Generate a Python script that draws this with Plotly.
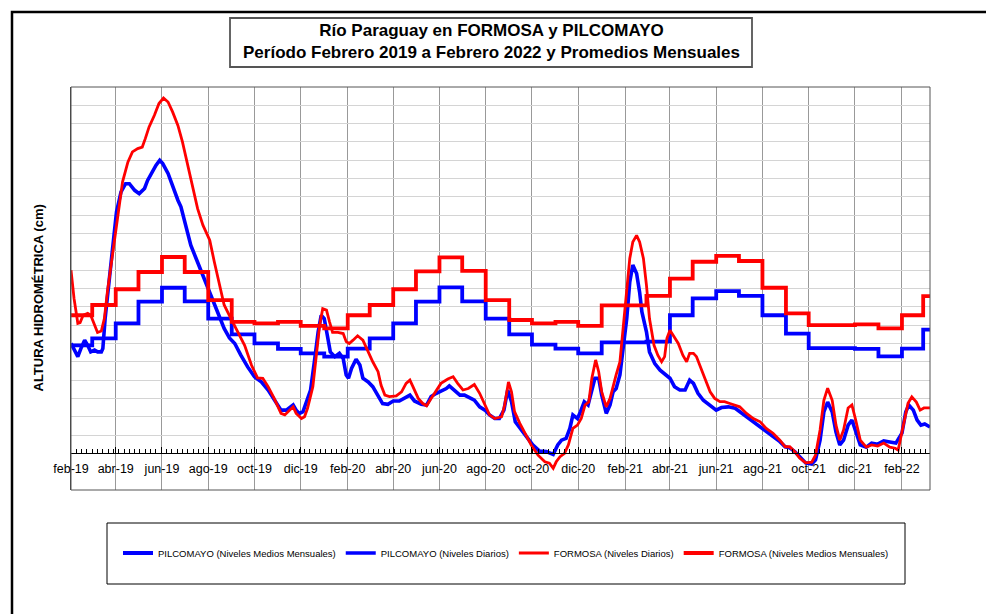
import plotly.graph_objects as go
import pandas as pd

START = pd.Timestamp("2019-02-01")
X_END = "2022-03-10"

# ---------------- data (days since 2019-02-01, levels in cm) ----------------
formosa_days = [0, 4, 9, 12, 16, 22, 26, 31, 35, 40, 44, 48, 55, 62, 68, 75, 81, 88, 94, 98, 103, 110, 116, 122,
                128, 134, 141, 147, 154, 161, 167, 174,
                183, 189, 196, 202, 211, 220, 229, 238, 246, 253, 260, 268, 277, 282, 288, 293, 297, 304, 308, 312,
                319, 323, 328, 332, 337, 341, 345, 352, 359, 363, 367,
                372, 378, 385, 392, 398, 405, 409, 414, 420, 429, 436, 442, 447, 451, 458, 464, 469, 475, 482, 488,
                497, 504, 510, 517, 524, 532, 539, 546, 552, 559,
                568, 572, 577, 581, 585, 592, 598, 607, 616, 625, 631, 636, 640, 645, 651, 656, 662, 668, 673, 678,
                683, 687, 692, 696, 700, 706, 711, 715, 719, 724, 728, 733, 737, 741, 746, 750,
                755, 759, 763, 769, 774, 779, 783, 786, 790, 794, 801, 807, 812, 816, 821, 825, 829, 836, 843, 849,
                856, 862, 869, 876, 882, 891, 900, 909, 917, 926, 935, 942, 948,
                955, 961, 969, 977, 982, 988, 993, 998, 1004, 1009, 1014, 1019, 1025, 1030, 1035, 1041, 1049, 1056,
                1064, 1072, 1080, 1087, 1091, 1097, 1104, 1109, 1115, 1120, 1125, 1133]
formosa_cm = [500, 423, 355, 357, 377, 382, 377, 350, 330, 334, 368, 441, 550, 659, 741, 795, 823, 832, 836, 859,
              891, 923, 955, 970, 959, 932, 895, 850, 786, 723, 668, 623,
              582, 523, 459, 405, 368, 332, 295, 241, 206, 205, 182, 150, 109, 105, 118, 127, 109, 95, 100, 123,
              182, 259, 350, 395, 391, 359, 330, 330, 327, 305, 300,
              309, 321, 309, 277, 250, 223, 186, 159, 155, 157, 168, 191, 200, 182, 150, 136, 130, 150, 173, 191,
              203, 209, 191, 173, 177, 188, 164, 132, 105, 95,
              100, 132, 195, 168, 114, 82, 59, 23, -5, -23, -27, -41, -23, -9, 0, 23, 68, 77, 95, 132,
              141, 205, 255, 223, 168, 127, 150, 186, 214, 250, 332, 441, 532, 577, 595, 577,
              532, 459, 368, 295, 268, 250, 264, 314, 336, 323, 300, 268, 250, 273, 273, 264, 241, 205, 168, 150,
              141, 141, 136, 132, 127, 109, 95, 86, 68, 55, 36, 18, 18,
              4, -13, -26, -24, -5, 64, 145, 178, 145, 77, 36, 64, 124, 132, 91, 36, 17, 23,
              20, 28, 17, 14, 9, 72, 137, 154, 140, 118, 124, 124]

pilco_days = [0, 4, 9, 13, 18, 22, 26, 31, 35, 40, 42, 45, 50, 55, 60, 66, 72, 77, 84, 90, 97, 101, 106, 112,
              117, 121, 128, 134, 141, 145, 150, 154, 158, 165, 172, 178,
              183, 189, 196, 202, 209, 216, 224, 233, 242, 251, 260, 268, 277, 284, 288, 293, 297, 301, 306, 310,
              316, 321, 326, 330, 334, 338, 342, 348, 354, 359, 363, 366, 370,
              376, 381, 385, 392, 398, 405, 411, 418, 425, 433, 440, 447, 453, 462, 469, 475, 482, 488, 495, 499,
              506, 513, 519, 526, 532, 539, 546, 552, 559,
              565, 571, 576, 581, 586, 592, 601, 609, 618, 627, 636, 642, 647, 653, 658, 662, 668, 672, 677, 682,
              686, 691, 696, 700, 706, 711, 715, 719, 724, 728, 733, 737, 741, 746, 750,
              753, 759, 763, 770, 777, 783, 790, 796, 803, 810, 816, 821, 827, 834, 843, 851, 858, 867, 876, 882,
              891, 900, 909, 917, 926, 935, 942, 948,
              955, 961, 969, 977, 982, 988, 993, 998, 1004, 1009, 1014, 1019, 1025, 1030, 1035, 1041, 1049, 1056,
              1064, 1072, 1080, 1088, 1096, 1101, 1105, 1111, 1116, 1121, 1126, 1133]
pilco_cm = [300, 286, 264, 286, 309, 295, 277, 282, 277, 277, 286, 368, 468, 577, 659, 714, 736, 736, 718, 709,
            723, 745, 766, 786, 800, 791, 764, 727, 691, 673, 636, 605, 568, 532, 495, 468,
            441, 405, 373, 341, 315, 300, 268, 236, 209, 195, 173, 145, 118, 118, 125, 132, 118, 109, 114, 136,
            173, 250, 332, 377, 368, 323, 277, 264, 273, 259, 214, 205, 232,
            257, 241, 205, 195, 182, 159, 136, 134, 143, 143, 150, 159, 143, 134, 132, 155, 164, 170, 177, 184,
            173, 159, 159, 152, 145, 127, 118, 105, 95,
            95, 118, 173, 141, 86, 68, 45, 23, 6, 5, -3, 23, 36, 41, 68, 105, 95, 114, 141, 132,
            168, 205, 205, 159, 109, 132, 168, 177, 214, 277, 368, 468, 514, 491, 440,
            386, 332, 277, 245, 227, 218, 205, 182, 173, 173, 200, 191, 164, 145, 132, 118, 125, 127, 123, 114,
            100, 86, 73, 59, 45, 32, 18, 15,
            4, -10, -26, -29, -18, 36, 113, 140, 113, 58, 23, 36, 77, 91, 58, 23, 17, 28,
            25, 34, 31, 28, 55, 113, 132, 118, 91, 77, 80, 72]

month_starts = pd.date_range("2019-02-01", "2022-03-01", freq="MS")
formosa_monthly = [377, 405, 448, 495, 536, 495, 418, 359, 355, 359, 348, 341,
                   377, 405, 448, 497, 535, 498, 418, 364, 355, 359, 348, 404,
                   404, 430, 477, 523, 539, 525, 452, 382, 350, 350, 352, 341,
                   377, 429]
pilco_monthly = [295, 314, 355, 414, 452, 415, 368, 325, 300, 285, 273, 264,
                 286, 314, 355, 414, 453, 415, 368, 325, 297, 286, 273, 303,
                 303, 305, 377, 423, 443, 430, 377, 327, 287, 287, 285, 265,
                 286, 338]

tick_labels = ["feb-19", "abr-19", "jun-19", "ago-19", "oct-19", "dic-19",
               "feb-20", "abr-20", "jun-20", "ago-20", "oct-20", "dic-20",
               "feb-21", "abr-21", "jun-21", "ago-21", "oct-21", "dic-21", "feb-22"]
tick_dates = pd.date_range("2019-02-01", periods=len(tick_labels), freq="2MS")

# ---------------- helpers ----------------
def to_dates(days):
    return [START + pd.Timedelta(days=d) for d in days]

step_x = list(month_starts) + [pd.Timestamp(X_END)]

BODY = 8                      # default page margin around the plot div
WIN_W, WIN_H = 994, 614
L, R, T, B = 71, 930, 87, 490  # plot area in window pixels
PW, PH = R - L, B - T

def px(x):
    return (x - L) / PW

def py(y):
    return (B - y) / PH

BLUE = "#0000FF"
RED = "#FF0000"
FONT = "Liberation Sans, Arial, sans-serif"

fig = go.Figure()
fig.add_trace(go.Scatter(x=step_x, y=pilco_monthly + [pilco_monthly[-1]], mode="lines",
                         line=dict(color=BLUE, width=3.8, shape="hv"),
                         name="PILCOMAYO (Niveles Medios Mensuales)"))
fig.add_trace(go.Scatter(x=to_dates(pilco_days), y=pilco_cm, mode="lines",
                         line=dict(color=BLUE, width=3.6),
                         name="PILCOMAYO (Niveles Diarios)"))
fig.add_trace(go.Scatter(x=to_dates(formosa_days), y=formosa_cm, mode="lines",
                         line=dict(color=RED, width=2.8),
                         name="FORMOSA (Niveles Diarios)"))
fig.add_trace(go.Scatter(x=step_x, y=formosa_monthly + [formosa_monthly[-1]], mode="lines",
                         line=dict(color=RED, width=3.8, shape="hv"),
                         name="FORMOSA (Niveles Medios Mensuales)"))

shapes = [
    dict(type="rect", xref="paper", yref="paper", x0=px(12), x1=px(1010), y0=py(630), y1=py(12),
         line=dict(color="black", width=2.5), layer="below"),
    dict(type="rect", xref="paper", yref="paper", x0=px(230), x1=px(752), y0=py(67), y1=py(18),
         line=dict(color="#555555", width=1.8), fillcolor="white", layer="below"),
    dict(type="rect", xref="paper", yref="paper", x0=0, x1=1, y0=0, y1=1,
         line=dict(color="#555555", width=1), layer="above"),
    dict(type="rect", xref="paper", yref="paper", x0=px(107), x1=px(905), y0=py(584), y1=py(523),
         line=dict(color="black", width=1), layer="below"),
]

annotations = [
    dict(text="<b>Río Paraguay en FORMOSA y PILCOMAYO<br>Período Febrero 2019 a Febrero 2022 y Promedios Mensuales</b>",
         xref="paper", yref="paper", x=px(491), y=py(41), xanchor="center", yanchor="middle",
         showarrow=False, font=dict(family=FONT, size=17, color="black")),
    dict(text="<b>ALTURA HIDROMÉTRICA (cm)</b>", textangle=-90,
         xref="paper", yref="paper", x=px(37.5), y=py(298), xanchor="center", yanchor="middle",
         showarrow=False, font=dict(family=FONT, size=13, color="black")),
]

fig.update_layout(
    width=WIN_W - BODY, height=WIN_H - BODY,
    margin=dict(l=L - BODY, r=WIN_W - R, t=T - BODY, b=WIN_H - B, pad=0),
    paper_bgcolor="white", plot_bgcolor="white",
    shapes=shapes, annotations=annotations,
    showlegend=True,
    legend=dict(orientation="h", x=px(506), y=py(553), xanchor="center", yanchor="middle",
                bgcolor="rgba(0,0,0,0)", borderwidth=0,
                font=dict(family=FONT, size=9.5, color="black"),
                itemwidth=30, tracegroupgap=0),
    xaxis=dict(type="date", range=[START, X_END], anchor="free", position=100 / 1100,
               tickmode="array", tickvals=list(tick_dates), ticktext=tick_labels,
               ticks="inside", ticklen=6, tickcolor="black", tickwidth=1,
               ticklabelstandoff=4,
               showline=True, linecolor="black", linewidth=1,
               showgrid=True, gridcolor="#999999", gridwidth=1.3,
               tickfont=dict(family=FONT, size=12.5, color="black"),
               minor=dict(ticks="inside", ticklen=4, tickcolor="black", tickwidth=1,
                          dtick=7 * 86400000, tick0="2019-02-01", showgrid=False),
               zeroline=False),
    yaxis=dict(range=[-100, 1000], tickmode="array", tickvals=list(range(0, 1001, 50)),
               showticklabels=False, ticks="", showgrid=True, gridcolor="#d4d4d4", gridwidth=1,
               showline=True, linecolor="#404040", linewidth=1, zeroline=False),
)

fig.write_html("out.html")
